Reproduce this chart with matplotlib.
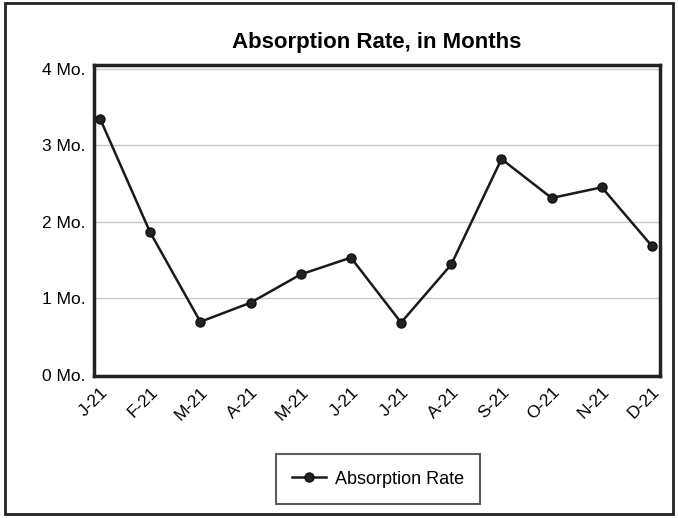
import matplotlib.pyplot as plt
from matplotlib.patches import Rectangle

plt.rcParams['font.family'] = ['Liberation Sans', 'DejaVu Sans']

months = ["J-21", "F-21", "M-21", "A-21", "M-21", "J-21",
          "J-21", "A-21", "S-21", "O-21", "N-21", "D-21"]
rates = [3.35, 1.86, 0.69, 0.94, 1.31, 1.53, 0.68, 1.44, 2.82, 2.31, 2.45, 1.68]
y_ticks = [0, 1, 2, 3, 4]
y_labels = [f"{v} Mo." for v in y_ticks]

fig = plt.figure(figsize=(6.78, 5.18), dpi=100)
ax = fig.add_axes([0.1386, 0.274, 0.8349, 0.6005])

x = list(range(len(months)))
ax.plot(x, rates, color="#1a1a1a", lw=1.8, marker="o", ms=6.5,
        markerfacecolor="#222222", markeredgecolor="#111111",
        label="Absorption Rate", zorder=3)

ax.set_xlim(-0.12, 11.16)
ax.set_ylim(-0.02, 4.05)
ax.set_yticks(y_ticks)
ax.set_yticklabels(y_labels, fontsize=12.5)
ax.set_xticks(x)
ax.set_xticklabels(months, fontsize=12.5, rotation=45, ha="right",
                   va="top", rotation_mode="anchor")
ax.tick_params(length=0, pad=6)
ax.tick_params(axis="y", pad=6)

ax.yaxis.grid(True, color="#c8c8c8", lw=1)
ax.set_axisbelow(True)
for sp in ax.spines.values():
    sp.set_linewidth(2.5)
    sp.set_color("#222222")

ax.set_title("Absorption Rate, in Months", fontsize=16, fontweight="bold", pad=12)

leg = ax.legend(loc="center", bbox_to_anchor=(378 / 678, 1 - 479 / 518),
                bbox_transform=fig.transFigure, fontsize=13, frameon=True,
                fancybox=False, edgecolor="#333333", borderpad=0.9,
                borderaxespad=0, handlelength=1.9, handletextpad=0.5)
leg.get_frame().set_linewidth(1.5)

fig.patches.append(Rectangle((0.007, 0.008), 0.985, 0.986, transform=fig.transFigure,
                             fill=False, edgecolor="#222222", lw=2))

fig.savefig("out.png", dpi=100)
